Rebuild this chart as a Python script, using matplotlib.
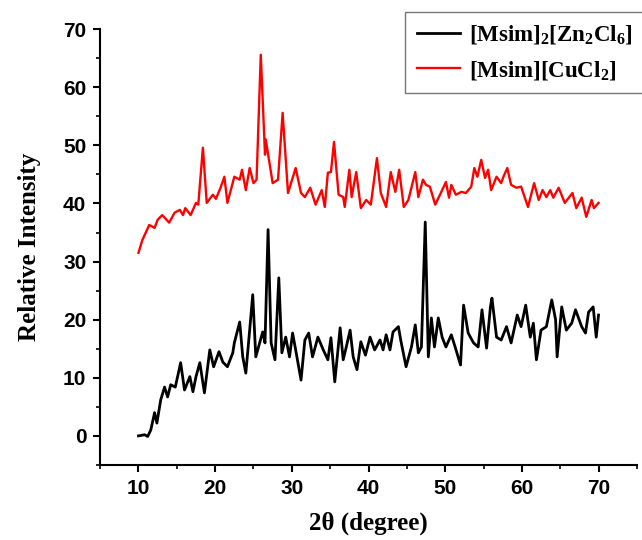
import matplotlib
matplotlib.use('Agg')
import matplotlib.pyplot as plt
from matplotlib.ticker import MultipleLocator

plt.rcParams['mathtext.fontset'] = 'custom'
plt.rcParams['mathtext.bf'] = 'Liberation Serif:bold'
plt.rcParams['mathtext.rm'] = 'Liberation Serif:bold'
plt.rcParams['mathtext.default'] = 'bf'

# [Msim][CuCl2] - red trace
cu_x = [10.0, 10.5, 11.4, 12.1, 12.5, 13.1, 14.0, 14.7, 15.4, 15.8, 16.1, 16.8, 17.5, 17.8,
        18.4, 18.9, 19.7, 20.1, 20.7, 21.2, 21.6, 22.5, 23.2, 23.5, 24.0, 24.5, 25.0, 25.4,
        25.95, 26.5, 26.6, 27.5, 28.2, 28.8, 29.5, 30.5, 31.2, 31.7, 32.4, 33.1, 33.9, 34.3,
        34.7, 35.1, 35.5, 36.1, 36.7, 36.9, 37.5, 37.8, 38.4, 39.0, 39.7, 40.3, 41.1, 41.6,
        42.3, 42.9, 43.5, 44.0, 44.6, 45.2, 46.1, 46.5, 47.1, 47.5, 48.0, 48.7, 49.5, 50.1,
        50.5, 50.8, 51.4, 52.1, 52.7, 53.4, 53.8, 54.2, 54.7, 55.2, 55.6, 56.0, 56.7, 57.3,
        57.6, 58.1, 58.6, 59.3, 59.9, 60.8, 61.6, 62.2, 62.7, 63.2, 63.7, 64.1, 64.8, 65.6,
        66.6, 67.1, 67.8, 68.4, 69.1, 69.4, 70.0]
cu_y = [31.5, 33.7, 36.3, 35.8, 37.2, 38.0, 36.7, 38.4, 38.9, 38.0, 39.2, 38.0, 40.1, 39.8,
        49.6, 40.1, 41.5, 40.8, 42.7, 44.6, 40.1, 44.6, 44.1, 45.8, 42.3, 46.1, 43.5, 44.1,
        65.6, 48.4, 51.0, 43.5, 44.1, 55.6, 41.8, 46.1, 41.8, 41.1, 42.7, 39.8, 42.3, 39.4,
        45.3, 45.4, 50.6, 41.5, 41.1, 39.4, 45.8, 41.1, 45.4, 39.2, 40.6, 39.8, 47.8, 41.8,
        39.4, 45.4, 42.0, 45.8, 39.4, 40.6, 45.4, 41.1, 44.1, 43.2, 42.9, 39.8, 42.0, 43.7,
        41.0, 43.2, 41.5, 42.0, 41.8, 42.9, 46.1, 44.6, 47.5, 44.4, 45.8, 42.3, 44.6, 43.5,
        44.6, 46.1, 43.2, 42.7, 42.9, 39.4, 43.5, 40.6, 42.3, 41.1, 42.3, 41.0, 42.7, 40.1,
        41.8, 39.2, 41.0, 37.7, 40.6, 39.2, 40.1]

# [Msim]2[Zn2Cl6] - black trace
zn_x = [10.0, 10.8, 11.2, 11.6, 12.1, 12.4, 12.9, 13.4, 13.8, 14.2, 14.8, 15.5, 16.0, 16.7,
        17.1, 17.5, 18.0, 18.6, 19.3, 19.8, 20.5, 21.0, 21.6, 22.3, 22.5, 23.2, 23.6, 24.0,
        24.5, 24.9, 25.3, 25.8, 26.2, 26.5, 26.9, 27.3, 27.8, 28.3, 28.7, 29.2, 29.7, 30.1,
        30.5, 31.2, 31.7, 32.2, 32.7, 33.4, 34.1, 34.7, 35.1, 35.6, 36.3, 36.7, 37.1, 37.6,
        38.0, 38.5, 39.0, 39.6, 40.2, 40.8, 41.5, 41.9, 42.3, 42.8, 43.2, 43.9, 44.2, 44.9,
        45.6, 46.1, 46.5, 46.9, 47.4, 47.8, 48.2, 48.6, 49.1, 49.6, 50.1, 50.8, 51.3, 52.0,
        52.4, 53.0, 53.7, 54.3, 54.8, 55.4, 55.9, 56.1, 56.7, 57.3, 58.0, 58.6, 59.4, 59.9,
        60.5, 61.1, 61.5, 61.9, 62.5, 63.2, 63.9, 64.4, 64.6, 65.2, 65.8, 66.5, 67.0, 67.8,
        68.3, 68.7, 69.3, 69.7, 70.0]
zn_y = [0.0, 0.2, -0.1, 1.0, 4.0, 2.2, 6.2, 8.4, 6.7, 8.8, 8.4, 12.6, 7.9, 10.2,
        7.6, 10.2, 12.6, 7.4, 14.8, 11.9, 14.5, 12.7, 11.9, 14.3, 16.0, 19.6, 13.6, 10.8,
        18.2, 24.3, 13.6, 16.0, 17.9, 16.0, 35.5, 16.0, 13.1, 27.2, 14.3, 17.0, 13.6, 17.7,
        14.8, 9.6, 16.5, 17.7, 13.6, 17.0, 14.8, 13.1, 16.9, 9.3, 18.6, 13.1, 15.3, 18.2,
        13.6, 11.4, 16.2, 13.9, 17.0, 14.8, 16.5, 14.8, 17.4, 14.8, 17.9, 18.8, 16.5, 11.9,
        15.3, 19.1, 14.3, 15.3, 36.8, 13.6, 20.3, 15.3, 20.3, 17.0, 15.3, 17.4, 15.3, 12.2,
        22.5, 17.7, 16.0, 15.3, 21.7, 15.1, 22.2, 23.7, 17.0, 16.5, 18.8, 16.0, 20.8, 18.8,
        22.5, 17.0, 19.4, 13.1, 18.2, 18.8, 23.4, 20.0, 13.6, 22.2, 18.2, 19.4, 21.7, 18.8,
        17.7, 21.3, 22.2, 17.0, 20.8]

fig = plt.figure(figsize=(6.42, 5.4), dpi=100)
ax = fig.add_axes([0.156, 0.139, 0.836, 0.807])

ax.plot(zn_x, zn_y, color='black', lw=2.0, label='[Msim]$_2$[Zn$_2$Cl$_6$]')
ax.plot(cu_x, cu_y, color='red', lw=1.7, label='[Msim][CuCl$_2$]')

ax.set_xlim(5, 75)
ax.set_ylim(-5, 70)
ax.spines['top'].set_visible(False)
ax.spines['right'].set_visible(False)
ax.spines['left'].set_linewidth(1.5)
ax.spines['bottom'].set_linewidth(1.5)

ax.xaxis.set_major_locator(MultipleLocator(10))
ax.xaxis.set_minor_locator(MultipleLocator(5))
ax.yaxis.set_major_locator(MultipleLocator(10))
ax.yaxis.set_minor_locator(MultipleLocator(5))
ax.tick_params(which='major', direction='out', length=5, width=1.5, pad=5)
ax.tick_params(which='minor', direction='out', length=3, width=1.2)

tickfont = ['Liberation Sans Narrow', 'Liberation Sans', 'DejaVu Sans']
for lab in ax.get_xticklabels() + ax.get_yticklabels():
    lab.set_family(tickfont)
    lab.set_fontweight('bold')
    lab.set_fontsize(15)

ax.set_xlabel('2θ (degree)', family='Liberation Serif', fontweight='bold', fontsize=18, labelpad=10)
ax.set_ylabel('Relative Intensity', family='Liberation Serif', fontweight='bold', fontsize=18, labelpad=16)

leg = fig.legend(loc='upper left', bbox_to_anchor=(0.631, 0.978), frameon=True, fancybox=False,
                 prop={'family': 'Liberation Serif', 'weight': 'bold', 'size': 16.5},
                 handlelength=1.9, handletextpad=0.4, borderpad=0.5, borderaxespad=0.0,
                 labelspacing=0.55)
leg.get_frame().set_edgecolor('#555555')
leg.get_frame().set_linewidth(1.0)

fig.savefig('out.png', dpi=100)
